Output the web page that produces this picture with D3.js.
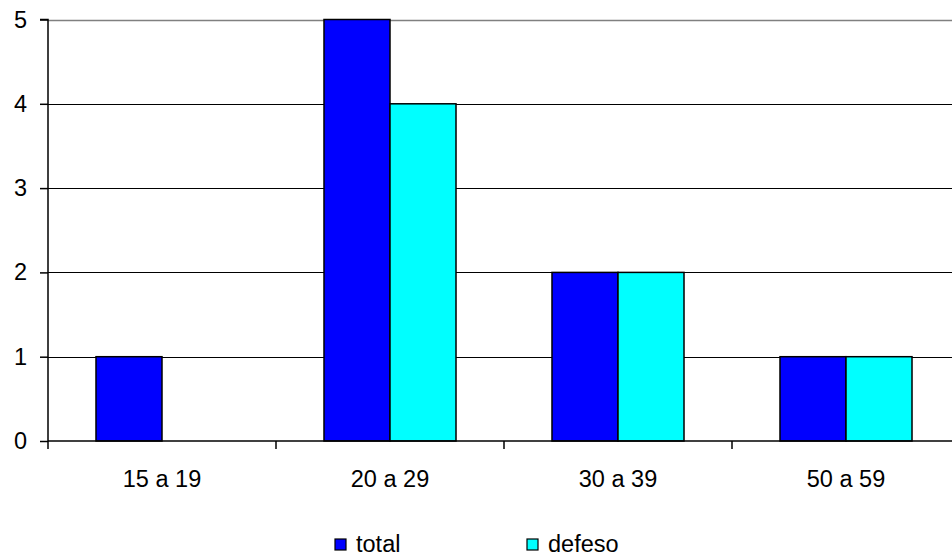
<!DOCTYPE html>
<html><head><meta charset="utf-8">
<script src="https://cdn.jsdelivr.net/npm/d3@7"></script>
<style>body{margin:0;background:#fff;overflow:hidden}svg{display:block;font-family:"Liberation Sans",Arial,sans-serif}</style>
</head><body>
<svg id="c" width="952" height="557"></svg>
<script>
const categories = ["15 a 19", "20 a 29", "30 a 39", "50 a 59"];
const seriesNames = ["total", "defeso"];
const totalValues = [1, 5, 2, 1];
const defesoValues = [null, 4, 2, 1];
const yTicks = [0, 1, 2, 3, 4, 5];
const colors = {total: "#0000ff", defeso: "#00ffff"};

const svg = d3.select("#c");
const mLeft = 48, mTop = 19.5, mBottom = 441, plotW = 912;
const fs = 23.5;

const x = d3.scaleBand().domain(categories).range([mLeft, mLeft + plotW]).paddingInner(0).paddingOuter(0);
const xs = d3.scaleBand().domain(seriesNames).range([0, x.bandwidth()]).paddingInner(0).paddingOuter(0.727);
const y = d3.scaleLinear().domain([0, 5]).range([mBottom, mTop]);

// gridlines
svg.append("g").selectAll("line").data(yTicks.filter(d => d > 0 && d < 5)).join("line")
  .attr("x1", mLeft).attr("x2", mLeft + plotW)
  .attr("y1", d => Math.round(y(d)) + 0.5).attr("y2", d => Math.round(y(d)) + 0.5)
  .attr("stroke", "#000").attr("stroke-width", 1.2);
// top border
svg.append("line").attr("x1", mLeft).attr("x2", mLeft + plotW)
  .attr("y1", Math.round(y(5)) + 0.5).attr("y2", Math.round(y(5)) + 0.5)
  .attr("stroke", "#808080").attr("stroke-width", 1.5);

const data = categories.map((c, i) => ({c, total: totalValues[i], defeso: defesoValues[i]}));
const g = svg.append("g");
data.forEach(d => {
  seriesNames.forEach(s => {
    if (d[s] == null) return;
    g.append("rect")
      .attr("x", x(d.c) + xs(s)).attr("width", xs.bandwidth())
      .attr("y", y(d[s])).attr("height", y(0) - y(d[s]))
      .attr("fill", colors[s]).attr("stroke", "#000").attr("stroke-width", 1.5);
  });
});

// y axis
const yAxis = d3.axisLeft(y).tickValues(yTicks).tickSize(8).tickPadding(13).tickFormat(d3.format("d"));
const ya = svg.append("g").attr("transform", `translate(${mLeft},0)`).call(yAxis);
ya.select(".domain").attr("stroke", "#000").attr("stroke-width", 1.5).attr("d", `M-8,${y(5)}H0V${y(0)}`);
ya.selectAll(".tick line").attr("stroke", "#000").attr("stroke-width", 1.5);
ya.selectAll("text").attr("font-size", fs).attr("fill", "#000").attr("font-family", "Liberation Sans, Arial, sans-serif");

// x axis
const xAxis = d3.axisBottom(x).tickSize(0).tickPadding(29);
const xa = svg.append("g").attr("transform", `translate(0,${mBottom})`).call(xAxis);
xa.select(".domain").attr("stroke", "#000").attr("stroke-width", 1.5).attr("d", `M${mLeft},0H${mLeft + plotW}`);
xa.selectAll("text").attr("font-size", fs).attr("fill", "#000").attr("font-family", "Liberation Sans, Arial, sans-serif");
// category boundary ticks
const bounds = categories.map(c => x(c)).concat([mLeft + plotW]);
xa.selectAll(".btick").data(bounds).join("line").attr("class", "btick")
  .attr("x1", d => d).attr("x2", d => d).attr("y1", 0).attr("y2", 8)
  .attr("stroke", "#000").attr("stroke-width", 1.5);

// legend
const legX = [335, 527];
const leg = svg.append("g");
seriesNames.forEach((s, i) => {
  leg.append("rect").attr("x", legX[i]).attr("y", 539).attr("width", 11).attr("height", 11)
    .attr("fill", colors[s]).attr("stroke", "#000").attr("stroke-width", 1.2);
  leg.append("text").attr("x", legX[i] + 21).attr("y", 552).attr("font-size", fs).text(s);
});
</script>
</body></html>
